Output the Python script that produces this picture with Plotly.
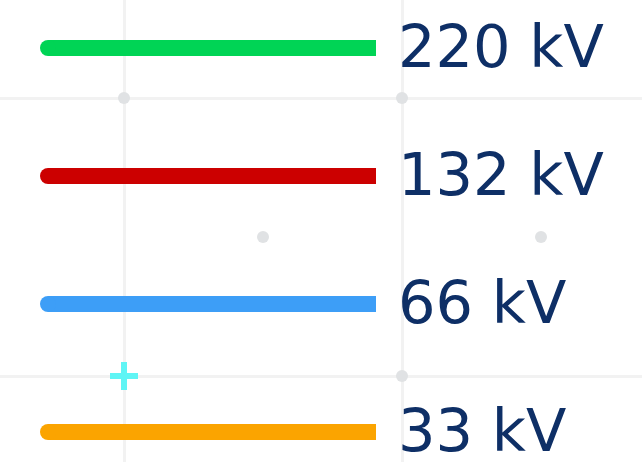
import plotly.graph_objects as go

# Data
levels = ["220 kV", "132 kV", "66 kV", "33 kV"]
level_colors = ["#00d455", "#cc0000", "#3d9ef7", "#fba400"]
row_y = [48, 176, 304, 432]
line_x_start = 48
line_x_end = 376
label_x = 398

dot_x = [124, 402, 402, 263, 541]
dot_y = [98, 98, 376, 237, 237]
cross_x = [124]
cross_y = [376]

fig = go.Figure()

fig.add_trace(go.Scatter(
    x=dot_x, y=dot_y, mode="markers",
    marker=dict(size=12, color="#e0e2e4", line=dict(width=0)),
    hoverinfo="skip", showlegend=False,
))

fig.add_trace(go.Scatter(
    x=cross_x, y=cross_y, mode="markers",
    marker=dict(symbol="cross-thin", size=20, line=dict(width=6, color="#5ff5f5")),
    hoverinfo="skip", showlegend=False,
))

for name, col, yy in zip(levels, level_colors, row_y):
    fig.add_trace(go.Scatter(
        x=[line_x_start, line_x_end], y=[yy, yy], mode="lines",
        line=dict(color=col, width=16),
        hoverinfo="skip", showlegend=False, name=name,
    ))
    fig.add_trace(go.Scatter(
        x=[line_x_start], y=[yy], mode="markers",
        marker=dict(size=16, color=col, opacity=1, line=dict(width=0)),
        hoverinfo="skip", showlegend=False,
    ))
    fig.add_trace(go.Scatter(
        x=[label_x], y=[yy + 4], mode="text", text=[name],
        textposition="middle right",
        textfont=dict(family="DejaVu Sans", size=59, color="#0e2f66"),
        hoverinfo="skip", showlegend=False,
    ))

fig.update_layout(
    width=642, height=462,
    margin=dict(l=0, r=0, t=0, b=0),
    paper_bgcolor="white", plot_bgcolor="white",
    hovermode=False,
    xaxis=dict(range=[0, 642], tick0=124, dtick=278, showgrid=True,
               gridcolor="#f2f2f2", gridwidth=3, zeroline=False,
               showticklabels=False, ticks="", fixedrange=True),
    yaxis=dict(range=[462, 0], tick0=98, dtick=278, showgrid=True,
               gridcolor="#f2f2f2", gridwidth=3, zeroline=False,
               showticklabels=False, ticks="", fixedrange=True),
)

fig.write_html(
    "out.html",
    config={"displayModeBar": False, "staticPlot": True},
    post_script="document.body.style.margin='0';document.body.style.overflow='hidden';",
)
